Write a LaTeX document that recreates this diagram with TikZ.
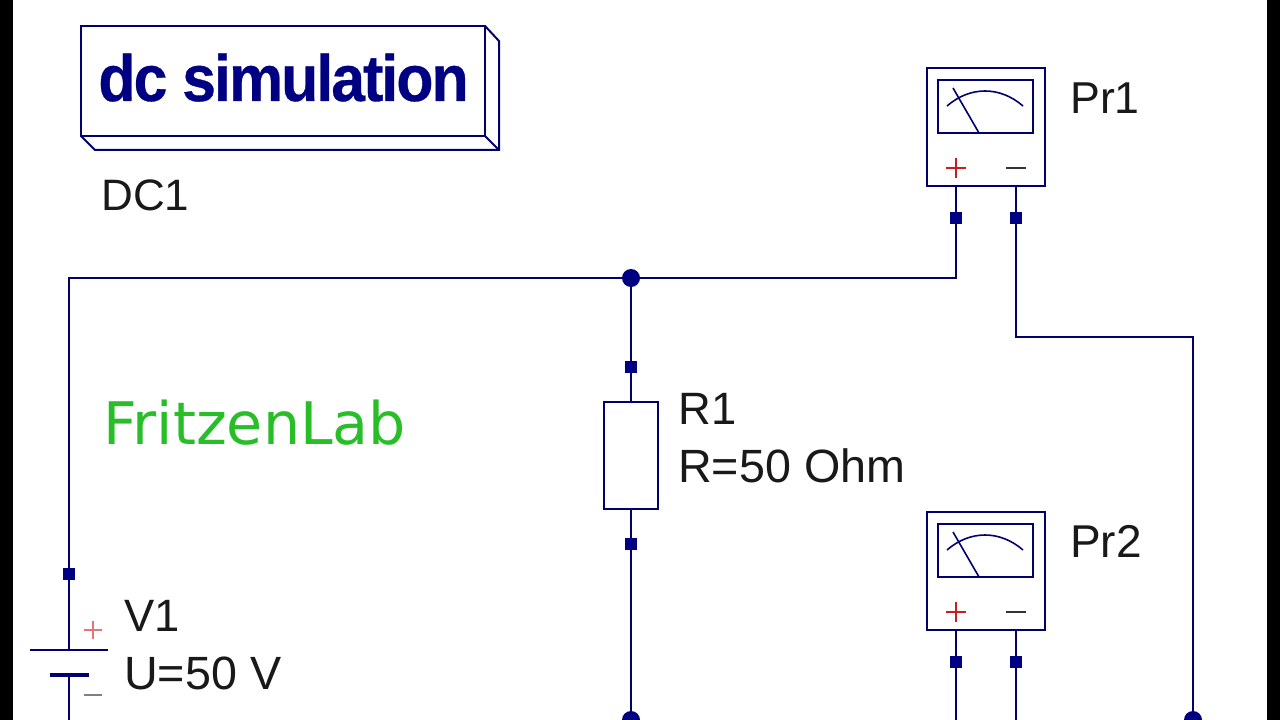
\documentclass[tikz,border=0pt]{standalone}
\usepackage{fontspec}
\setmainfont{Liberation Sans}
\newfontfamily\labfont{DejaVu Sans}
\newfontfamily\dcfont[UprightFont=* Bold, FakeBold=0.5, LetterSpace=-3.2]{Liberation Sans}
\usepackage{tikz}
\usetikzlibrary{arrows, positioning}
\definecolor{wirecol}{RGB}{0,0,110}
\definecolor{portcol}{RGB}{0,0,130}
\definecolor{labcol}{RGB}{40,190,40}
\definecolor{pluscol}{RGB}{200,30,30}
\tikzset{
	wire/.style={draw=wirecol, line width=1.5pt},
	symb/.style={draw=wirecol, line width=1.4pt, fill=white, inner sep=0pt},
	port/.style={fill=portcol, inner sep=0pt, minimum size=8.5pt},
	junct/.style={circle, fill=portcol, inner sep=0pt, minimum size=13.5pt},
	txt/.style={anchor=base west, inner sep=0pt, font=\fontsize{35}{35}\selectfont, text=black!90}
}

\begin{document}
\begin{tikzpicture}[x=.75pt, y=-.75pt]
	\useasboundingbox (0, 0) rectangle (1280, 720);
	\clip (0, 0) rectangle (1280, 720);
	\fill[white] (0, 0) rectangle (1280, 720);
	\fill[black] (0, 0) rectangle (13, 720);
	\fill[black] (1267, 0) rectangle (1280, 720);

	% simulation block
	\draw[wire] (485, 26) -- (499, 41) -- (499, 150) -- (95, 150) -- (81, 136);
	\draw[wire] (485, 136) -- (499, 150);
	\node[symb, minimum width=303pt, minimum height=82.5pt] (dc) at (283, 81) {};
	\node[anchor=base, inner sep=0pt, text=portcol, font=\fontsize{49}{49}\selectfont\dcfont] (dctext) at (283.5, 101) {\scalebox{.93}[1]{dc simulation}};
	\node[txt, font=\fontsize{33}{33}\selectfont] (dc1) at (101, 211) {DC1};

	\node[txt, text=labcol, font=\fontsize{44}{44}\selectfont\labfont] (lab) at (103, 444) {FritzenLab};

	% first probe
	\node[symb, minimum size=88.5pt] (pr1) at (986, 127) {};
	\node[symb, minimum width=71.25pt, minimum height=39.75pt] (scr1) at (985.5, 106.5) {};
	\coordinate (needle1) at (953, 88);
	\draw[wire, line width=1.2pt] (needle1) -- (979, 133);
	\draw[wire, line width=1.2pt] (947, 106) .. controls (970, 86) and (1000, 86) .. (1023, 106);
	\draw[pluscol, line width=1.1pt] (946, 168) -- (966, 168) (956, 158) -- (956, 178);
	\draw[black!80, line width=1.1pt] (1006, 168) -- (1026, 168);
	\node[txt, font=\fontsize{33.5}{33.5}\selectfont] (pr1name) at (1070, 114) {Pr1};
	\node[port] (p1) at (956, 218) {};
	\node[port] (p2) at (1016, 218) {};

	% second probe
	\node[symb, minimum size=88.5pt] (pr2) at (986, 571) {};
	\node[symb, minimum width=71.25pt, minimum height=39.75pt] (scr2) at (985.5, 550.5) {};
	\coordinate (needle2) at (953, 532);
	\draw[wire, line width=1.2pt] (needle2) -- (979, 577);
	\draw[wire, line width=1.2pt] (947, 550) .. controls (970, 530) and (1000, 530) .. (1023, 550);
	\draw[pluscol, line width=1.1pt] (946, 612) -- (966, 612) (956, 602) -- (956, 622);
	\draw[black!80, line width=1.1pt] (1006, 612) -- (1026, 612);
	\node[txt, font=\fontsize{34.5}{34.5}\selectfont] (pr2name) at (1070, 557) {Pr2};
	\node[port] (p3) at (956, 662) {};
	\node[port] (p4) at (1016, 662) {};

	% resistor
	\node[symb, minimum width=40.5pt, minimum height=80.25pt] (r1) at (631, 455.5) {};
	\node[port] (p5) at (631, 367) {};
	\node[port] (p6) at (631, 544) {};
	\node[txt, font=\fontsize{34}{34}\selectfont] (r1name) at (678, 424) {R1};
	\node[txt] (r1val) at (678, 482) {R=50 Ohm};

	% source
	\coordinate (plate1) at (69, 650);
	\coordinate (plate2) at (69, 675);
	\node[port] (p7) at (69, 574) {};
	\draw[wire] (30, 650) -- (108, 650);
	\draw[wire, line width=2.4pt] (50, 675) -- (89, 675);
	\draw[pluscol!60, line width=.9pt] (84, 630) -- (102, 630) (93, 621) -- (93, 639);
	\draw[black!50, line width=.9pt] (84, 695) -- (102, 695);
	\node[txt, font=\fontsize{34}{34}\selectfont] (v1name) at (124, 631) {V1};
	\node[txt] (v1val) at (124, 689) {U=50 V};

	% junctions and free ends
	\node[junct] (top) at (631, 278) {};
	\node[junct] (botl) at (631, 720) {};
	\node[junct] (botr) at (1193, 720) {};
	\coordinate (corner1) at (956, 278);
	\coordinate (corner2) at (69, 278);
	\coordinate (corner3) at (1016, 337);
	\coordinate (corner4) at (1193, 337);
	\coordinate (end1) at (956, 725);
	\coordinate (end2) at (1016, 725);
	\coordinate (end3) at (69, 725);

	\draw[wire] (pr1.south -| p1) -- (p1) -- (corner1) -- (top) -- (corner2) -- (p7) -- (plate1);
	\draw[wire] (pr1.south -| p2) -- (p2) -- (corner3) -- (corner4) -- (botr);
	\draw[wire] (top) -- (p5) -- (r1.north);
	\draw[wire] (r1.south) -- (p6) -- (botl);
	\draw[wire] (pr2.south -| p3) -- (p3) -- (end1);
	\draw[wire] (pr2.south -| p4) -- (p4) -- (end2);
	\draw[wire] (plate2) -- (end3);
\end{tikzpicture}
\end{document}
